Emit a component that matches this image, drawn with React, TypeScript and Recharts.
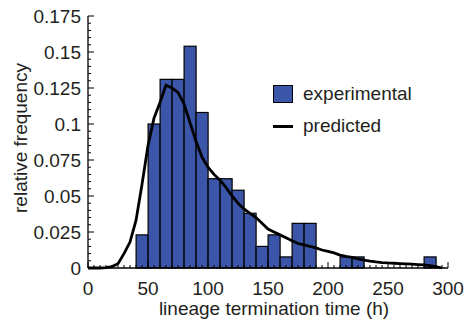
import { Bar, ComposedChart, Label, Legend, Line, XAxis, YAxis } from 'recharts';

// histogram bins (10 h wide), value = relative frequency
const BIN_CENTERS = [45, 55, 65, 75, 85, 95, 105, 115, 125, 135, 145, 155, 165, 175, 185, 195, 205, 215, 225, 235, 245, 255, 265, 275, 285];
const EXPERIMENTAL = [0.023, 0.1, 0.131, 0.131, 0.154, 0.108, 0.062, 0.062, 0.054, 0.038, 0.015, 0.023, 0.0077, 0.031, 0.031, 0, 0, 0.0077, 0.0077, 0, 0, 0, 0, 0, 0.0077];

// predicted curve, sampled every 5 h
const CURVE_X = [0, 5, 10, 15, 20, 25, 30, 35, 40, 45, 50, 55, 60, 65, 70, 75, 80, 85, 90, 95, 100, 105, 110, 115, 120, 125, 130, 135, 140, 145, 150, 155, 160, 165, 170, 175, 180, 185, 190, 195, 200, 205, 210, 215, 220, 225, 230, 235, 240, 245, 250, 255, 260, 265, 270, 275, 280, 285, 290, 295];
const PREDICTED = [0, 0, 0, 0.0003, 0.001, 0.003, 0.01, 0.018, 0.033, 0.058, 0.085, 0.104, 0.115, 0.127, 0.125, 0.122, 0.114, 0.101, 0.088, 0.077, 0.07, 0.065, 0.061, 0.056, 0.05, 0.045, 0.041, 0.038, 0.035, 0.031, 0.027, 0.025, 0.023, 0.021, 0.019, 0.017, 0.016, 0.015, 0.014, 0.0125, 0.0115, 0.0105, 0.009, 0.008, 0.0073, 0.0063, 0.0055, 0.0048, 0.0042, 0.0038, 0.0035, 0.0033, 0.0031, 0.0029, 0.0027, 0.0024, 0.0021, 0.0016, 0.0009, 0];

const X_LABELS = [0, 50, 100, 150, 200, 250, 300];
const Y_LABELS = [0, 0.025, 0.05, 0.075, 0.1, 0.125, 0.15, 0.175];

const X_TICKS = Array.from({ length: 61 }, (_, i) => i * 5);
const Y_TICKS = Array.from({ length: 36 }, (_, i) => +(i * 0.005).toFixed(3));

const BIN_WIDTH = 10; // hours
const PX_PER_HOUR = 360 / 300;

const FONT = '"Liberation Sans", Arial, sans-serif';
const TEXT = '#231f20';
const BAR_FILL = '#3b56a8';

const data = CURVE_X.map((x, i) => {
  const b = BIN_CENTERS.indexOf(x);
  const v = b >= 0 ? EXPERIMENTAL[b] : 0;
  return { x, predicted: PREDICTED[i], experimental: v > 0 ? v : null };
});

function XTick({ x, y, payload }: any) {
  const major = X_LABELS.includes(payload.value);
  return (
    <g>
      <line x1={x} x2={x} y1={y} y2={y - (major ? 6 : 3)} stroke='#000' strokeWidth={1} />
      {major && (
        <text x={x} y={y + 27} textAnchor='middle' fill={TEXT} fontSize={19} fontFamily={FONT}>
          {payload.value}
        </text>
      )}
    </g>
  );
}

function YTick({ x, y, payload }: any) {
  const major = Y_LABELS.includes(payload.value);
  return (
    <g>
      <line x1={x} x2={x + (major ? 6 : 3)} y1={y} y2={y} stroke='#000' strokeWidth={1} />
      {major && (
        <text x={x - 7} y={y + 7} textAnchor='end' fill={TEXT} fontSize={19} fontFamily={FONT}>
          {payload.value}
        </text>
      )}
    </g>
  );
}

// the band the library gives is one sample step (5 h); draw the full 10 h bin around its centre
function BinBar({ x, y, width, height }: any) {
  if (!height) return null;
  const w = BIN_WIDTH * PX_PER_HOUR;
  const cx = x + width / 2;
  return <rect x={cx - w / 2} y={y} width={w} height={height} fill={BAR_FILL} stroke='#000' strokeWidth={1.2} />;
}

function LegendBox() {
  return (
    <div style={{ fontFamily: FONT, fontSize: 19, color: TEXT, lineHeight: '18px' }}>
      <div style={{ display: 'flex', alignItems: 'center', height: 18 }}>
        <span
          style={{
            width: 20,
            height: 18,
            background: BAR_FILL,
            border: '1.5px solid #000',
            boxSizing: 'border-box'
          }}
        />
        <span style={{ marginLeft: 10 }}>experimental</span>
      </div>
      <div style={{ display: 'flex', alignItems: 'center', height: 18, marginTop: 14 }}>
        <span style={{ width: 20, height: 3, background: '#000' }} />
        <span style={{ marginLeft: 10 }}>predicted</span>
      </div>
    </div>
  );
}

export default function App() {
  return (
    <div style={{ position: 'absolute', left: 0, top: 0 }}>
      <ComposedChart width={464} height={323} data={data} margin={{ top: 16, right: 16, bottom: 0, left: 0 }}>
        <XAxis
          dataKey='x'
          type='number'
          domain={[0, 300]}
          ticks={X_TICKS}
          interval={0}
          tick={<XTick />}
          tickLine={false}
          tickSize={0}
          tickMargin={0}
          height={55}
          stroke='#000'
          strokeWidth={1.3}
        >
          <Label
            content={() => (
              <text x={274} y={315} textAnchor='middle' fill={TEXT} fontSize={19} fontFamily={FONT}>
                lineage termination time (h)
              </text>
            )}
          />
        </XAxis>
        <YAxis
          type='number'
          domain={[0, 0.175]}
          ticks={Y_TICKS}
          interval={0}
          tick={<YTick />}
          tickLine={false}
          tickSize={0}
          tickMargin={0}
          width={88}
          stroke='#000'
          strokeWidth={1.3}
        >
          <Label
            content={() => (
              <text
                x={27}
                y={138}
                transform='rotate(-90 27 138)'
                textAnchor='middle'
                fill={TEXT}
                fontSize={19}
                fontFamily={FONT}
              >
                relative frequency
              </text>
            )}
          />
        </YAxis>
        <Legend
          layout='vertical'
          align='center'
          verticalAlign='middle'
          content={<LegendBox />}
          wrapperStyle={{ left: 273, top: 85, width: 'auto' }}
        />
        <Bar
          dataKey='experimental'
          name='experimental'
          fill={BAR_FILL}
          shape={<BinBar />}
          isAnimationActive={false}
        />
        <Line
          dataKey='predicted'
          name='predicted'
          type='linear'
          stroke='#000'
          strokeWidth={2.8}
          dot={false}
          activeDot={false}
          isAnimationActive={false}
        />
      </ComposedChart>
    </div>
  );
}
